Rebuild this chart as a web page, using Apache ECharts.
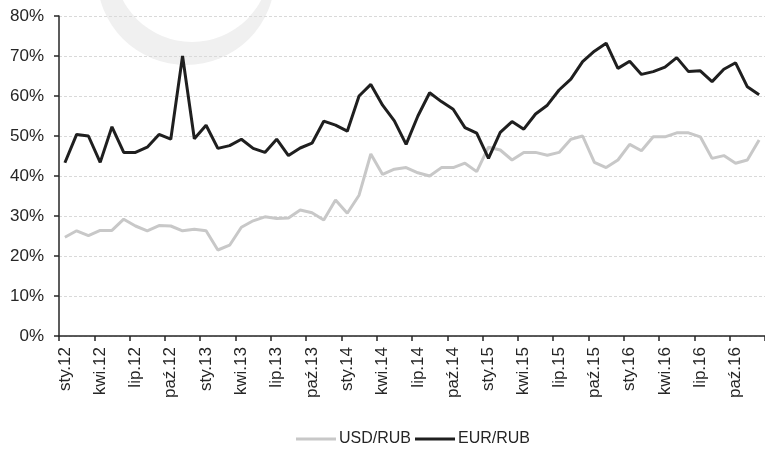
<!DOCTYPE html>
<html>
<head>
<meta charset="utf-8">
<script src="https://cdn.jsdelivr.net/npm/echarts@6/dist/echarts.min.js"></script>
<style>html,body{margin:0;padding:0;background:#fff}#c{width:765px;height:449px}</style>
</head>
<body>
<div id="c"></div>
<script>
var monthNames = ['sty','lut','mar','kwi','maj','cze','lip','sie','wrz','paź','lis','gru'];
var years = ['12','13','14','15','16'];
var categories = [];
years.forEach(function(y){ monthNames.forEach(function(m){ categories.push(m + '.' + y); }); });

var seriesNames = ['USD/RUB', 'EUR/RUB'];
var usdRub = [24.7,26.3,25.1,26.4,26.4,29.2,27.5,26.3,27.6,27.5,
              26.3,26.7,26.3,21.5,22.7,27.2,28.8,29.8,29.4,29.5,
              31.5,30.8,29.0,34.0,30.7,35.2,45.5,40.4,41.7,42.1,
              40.8,40.0,42.1,42.1,43.2,41.1,47.2,46.5,44.0,45.9,
              45.9,45.2,45.9,49.2,50.0,43.4,42.1,44.0,47.9,46.3,
              49.8,49.8,50.8,50.8,49.8,44.4,45.1,43.2,44.0,49.0];
var eurRub = [43.3,50.4,50.0,43.4,52.3,45.9,45.9,47.2,50.4,49.2,
              70.0,49.3,52.7,46.9,47.6,49.2,46.9,45.9,49.2,45.1,
              47.0,48.2,53.7,52.7,51.2,60.0,62.9,57.7,53.8,47.9,
              55.0,60.8,58.6,56.7,52.1,50.7,44.4,50.9,53.6,51.7,
              55.5,57.7,61.5,64.2,68.6,71.2,73.2,66.9,68.7,65.4,
              66.1,67.2,69.6,66.1,66.3,63.6,66.7,68.3,62.3,60.3];
var yMin = 0, yMax = 80, yStep = 10;

var chart = echarts.init(document.getElementById('c'), null, {renderer: 'canvas'});
var font = 'Liberation Sans, Arial, sans-serif';
chart.setOption({
  animation: false,
  backgroundColor: '#fff',
  graphic: [
    {type: 'circle', z: -10, shape: {cx: 186, cy: -24, r: 89}, style: {fill: '#f0f0f0'}},
    {type: 'circle', z: -9, shape: {cx: 192, cy: -36, r: 78}, style: {fill: '#ffffff'}}
  ],
  grid: {left: 59, top: 16, width: 712, height: 320, containLabel: false},
  legend: {
    top: 431, left: 296, padding: 0,
    itemWidth: 40, itemHeight: 3, itemGap: 4,
    icon: 'rect',
    textStyle: {fontFamily: font, fontSize: 16, color: '#262626', padding: [0,0,0,-2]},
    data: seriesNames
  },
  xAxis: {
    type: 'category',
    data: categories,
    boundaryGap: true,
    axisLine: {lineStyle: {color: '#262626', width: 1.5}},
    axisTick: {show: true, interval: 2, length: 5, lineStyle: {color: '#262626', width: 1.5}},
    axisLabel: {interval: 2, rotate: 90, margin: 11, fontFamily: font, fontSize: 17, color: '#262626'},
    splitLine: {show: false}
  },
  yAxis: {
    type: 'value', min: yMin, max: yMax, interval: yStep,
    axisLine: {show: true, lineStyle: {color: '#262626', width: 1.5}},
    axisTick: {show: true, length: 5, lineStyle: {color: '#262626', width: 1.5}},
    axisLabel: {margin: 15, fontFamily: font, fontSize: 17, color: '#262626', formatter: '{value}%'},
    splitLine: {show: true, lineStyle: {color: '#d9d9d9', width: 1, type: [3, 2]}}
  },
  series: [
    {name: seriesNames[0], type: 'line', data: usdRub, symbol: 'none', z: 2,
     lineStyle: {color: '#c8c8c8', width: 3}, itemStyle: {color: '#c8c8c8'}},
    {name: seriesNames[1], type: 'line', data: eurRub, symbol: 'none', z: 3,
     lineStyle: {color: '#1f1f1f', width: 3}, itemStyle: {color: '#1f1f1f'}}
  ]
});
</script>
</body>
</html>
